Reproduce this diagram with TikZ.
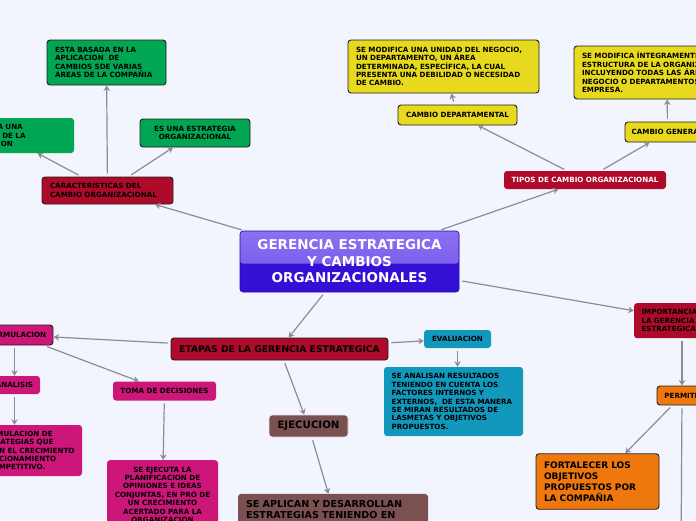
\documentclass[tikz,border=0pt]{standalone}
\usepackage{fontspec}
\setmainfont{DejaVu Sans}
\usetikzlibrary{arrows.meta}
\definecolor{bg}{RGB}{242,245,254}
\definecolor{cred}{RGB}{176,10,42}
\definecolor{cgreen}{RGB}{0,166,81}
\definecolor{cyellow}{RGB}{230,217,30}
\definecolor{cpink}{RGB}{204,22,122}
\definecolor{cteal}{RGB}{18,152,188}
\definecolor{cbrown}{RGB}{122,80,80}
\definecolor{corange}{RGB}{238,120,14}
\definecolor{ctoplight}{RGB}{140,112,242}
\definecolor{ctop}{RGB}{112,82,232}
\definecolor{cbot}{RGB}{52,16,214}
\definecolor{cedge}{RGB}{140,140,150}
\definecolor{cborder}{RGB}{35,30,35}
\newcommand\fsm{\fontsize{7.15}{8.4}\selectfont\bfseries}
\tikzset{
  box/.style={rounded corners=3pt, inner sep=0pt, font=\fsm, text=black},
  dk/.style={draw=cborder, line width=0.9pt},
  conn/.style={draw=cedge, line width=1.2pt, -{Stealth[length=5.5pt,width=6.5pt]}, shorten <=3pt},
}
\begin{document}
\begin{tikzpicture}[x=1pt,y=-1pt]
\clip (0,0) rectangle (696,520);
\fill[bg] (0,0) rectangle (696,520);

% central
\node[box, font=\fontsize{13.5}{16.5}\selectfont\bfseries, text=white, align=center,
  minimum width=219pt, minimum height=61pt, fill=cbot, draw=cbot!75!black, line width=0.6pt,
  path picture={\shade[top color=ctoplight, bottom color=ctop]
    (path picture bounding box.north west) rectangle ([yshift=-2pt]path picture bounding box.east);}]
  (c) at (349.5,261.5) {GERENCIA ESTRATEGICA\\Y CAMBIOS\\ORGANIZACIONALES};

% upper left branch
\node[box, fill=cred, dk, minimum width=131pt, minimum height=27pt, text width=115pt, align=left]
  (car) at (107.5,190.5) {CARACTERISTICAS DEL\\CAMBIO ORGANIZACIONAL};
\node[box, fill=cgreen, dk, minimum width=119pt, minimum height=45pt, text width=103pt, align=left]
  (esta) at (106.5,62.5) {ESTA BASADA EN LA\\APLICACION\ \ DE\\CAMBIOS SDE VARIAS\\AREAS DE LA COMPAÑIA};
\node[box, fill=cgreen, minimum width=139.5pt, minimum height=35pt, text width=128.9pt, align=left]
  (lg) at (4.25,135.5) {SE ENCAMINA A UNA\\MODIFICACION DE LA\\ESTRUCTURACION};
\node[box, fill=cgreen, dk, minimum width=110pt, minimum height=28pt, align=center]
  (esuna) at (195,133) {ES UNA ESTRATEGIA\\ORGANIZACIONAL};

% upper right branch
\node[box, fill=cred, text=white, minimum width=162pt, minimum height=18pt]
  (tipos) at (585,180) {TIPOS DE CAMBIO ORGANIZACIONAL};
\node[box, fill=cyellow, dk, minimum width=119pt, minimum height=20pt]
  (dept) at (457.5,115) {CAMBIO DEPARTAMENTAL};
\node[box, fill=cyellow, dk, minimum width=191pt, minimum height=53pt, text width=175pt, align=left]
  (semod) at (443.5,66.5) {SE MODIFICA UNA UNIDAD DEL NEGOCIO,\\UN DEPARTAMENTO, UN ÁREA\\DETERMINADA, ESPECÍFICA, LA CUAL\\PRESENTA UNA DEBILIDAD O NECESIDAD\\DE CAMBIO.};
\node[box, fill=cyellow, dk, minimum width=85pt, minimum height=20pt]
  (gen) at (667.5,132) {CAMBIO GENERAL};
\node[box, fill=cyellow, dk, minimum width=186pt, minimum height=53pt, text width=170pt, align=left]
  (integ) at (667,72.5) {SE MODIFICA ÍNTEGRAMENTE LA\\ESTRUCTURA DE LA ORGANIZACIÓN,\\INCLUYENDO TODAS LAS ÁREAS DEL\\NEGOCIO O DEPARTAMENTOS DE LA\\EMPRESA.};

% lower branch
\node[box, font=\fontsize{9.2}{10}\selectfont\bfseries, fill=cred, dk, minimum width=217pt, minimum height=22pt]
  (etapas) at (279.5,349) {ETAPAS DE LA GERENCIA ESTRATEGICA};
\node[box, fill=cpink, dk, minimum width=73pt, minimum height=20pt]
  (formul) at (16.5,335) {FORMULACION};
\node[box, fill=cpink, minimum width=51pt, minimum height=18pt]
  (analisis) at (14.5,385) {ANALISIS};
\node[box, fill=cpink, minimum width=109pt, minimum height=51pt, text width=95pt, align=left]
  (fde) at (27.5,450.5) {FORMULACION DE\\ESTRATEGIAS QUE\\GUIEN~EL~CRECIMIENTO\\POSICIONAMIENTO\\Y COMPETITIVO.};
\node[box, fill=cpink, minimum width=103pt, minimum height=19pt]
  (toma) at (164.5,391) {TOMA DE DECISIONES};
\node[box, fill=cpink, minimum width=111pt, minimum height=69pt, align=center]
  (ejecuta) at (162.5,494.7) {SE EJECUTA LA\\PLANIFICACION DE\\OPINIONES E IDEAS\\CONJUNTAS, EN PRO DE\\UN CRECIMIENTO\\ACERTADO PARA LA\\ORGANIZACION};
\node[box, fill=cteal, minimum width=67pt, minimum height=18pt]
  (eval) at (457.5,339) {EVALUACION};
\node[box, fill=cteal, minimum width=139pt, minimum height=69pt, text width=123.6pt, align=left]
  (analisan) at (453.5,401.5) {SE ANALISAN RESULTADOS\\TENIENDO EN CUENTA LOS\\FACTORES INTERNOS Y\\EXTERNOS,~~DE~ESTA~MANERA\\SE MIRAN RESULTADOS DE\\LASMETAS Y OBJETIVOS\\PROPUESTOS.};
\node[box, font=\fontsize{10.2}{12}\selectfont\bfseries, fill=cbrown, draw=white!85!cbrown, line width=0.8pt, minimum width=79pt, minimum height=22pt]
  (ejec) at (308.5,426) {EJECUCION};
\node[box, font=\fontsize{9.6}{11.3}\selectfont\bfseries, fill=cbrown, minimum width=190pt, minimum height=30.7pt, text width=174pt, align=left]
  (aplican) at (333,509.3) {SE APLICAN Y DESARROLLAN\\ESTRATEGIAS TENIENDO EN};

% right branch
\node[box, fill=cred, minimum width=115pt, minimum height=35pt, text width=100pt, align=left]
  (imp) at (691.5,320.7) {IMPORTANCIA DE\\LA GERENCIA\\ESTRATEGICA};
\node[box, fill=corange, dk, minimum width=50pt, minimum height=19pt]
  (perm) at (682,395.5) {PERMITE};
\node[box, font=\fontsize{9}{11}\selectfont\bfseries, fill=corange, dk, minimum width=123pt, minimum height=55.5pt, text width=107pt, align=left]
  (fort) at (597.5,481.5) {FORTALECER LOS\\OBJETIVOS\\PROPUESTOS POR\\LA COMPAÑIA};
\coordinate (pdown) at (681,560);
\coordinate (pright) at (720,450);

% connectors
\draw[conn] (c) -- (car);
\draw[conn] (car) -- (lg);
\draw[conn] (car) -- (esta);
\draw[conn] (car) -- (esuna);
\draw[conn] (c) -- (tipos);
\draw[conn] (tipos) -- (dept);
\draw[conn] (dept) -- (semod);
\draw[conn] (tipos) -- (gen);
\draw[conn] (gen) -- (integ);
\draw[conn] (c) -- (etapas);
\draw[conn] (etapas) -- (formul);
\draw[conn] (formul.south -| analisis.north) -- (analisis.north);
\draw[conn] (analisis.south) -- (analisis.south |- fde.north);
\draw[conn] (formul) -- (toma);
\draw[conn] (toma) -- (ejecuta);
\draw[conn] (etapas) -- (eval);
\draw[conn] (eval.south) -- (eval.south |- analisan.north);
\draw[conn] (etapas) -- (ejec);
\draw[conn] (ejec) -- (aplican);
\draw[conn] (c) -- (imp);
\draw[conn] (imp.south -| perm.north) -- (perm.north);
\draw[conn] (perm) -- (fort);
\draw[conn] (perm) -- (pdown);
\draw[conn] ([xshift=13pt]perm.south) -- (pright);
\end{tikzpicture}
\end{document}
